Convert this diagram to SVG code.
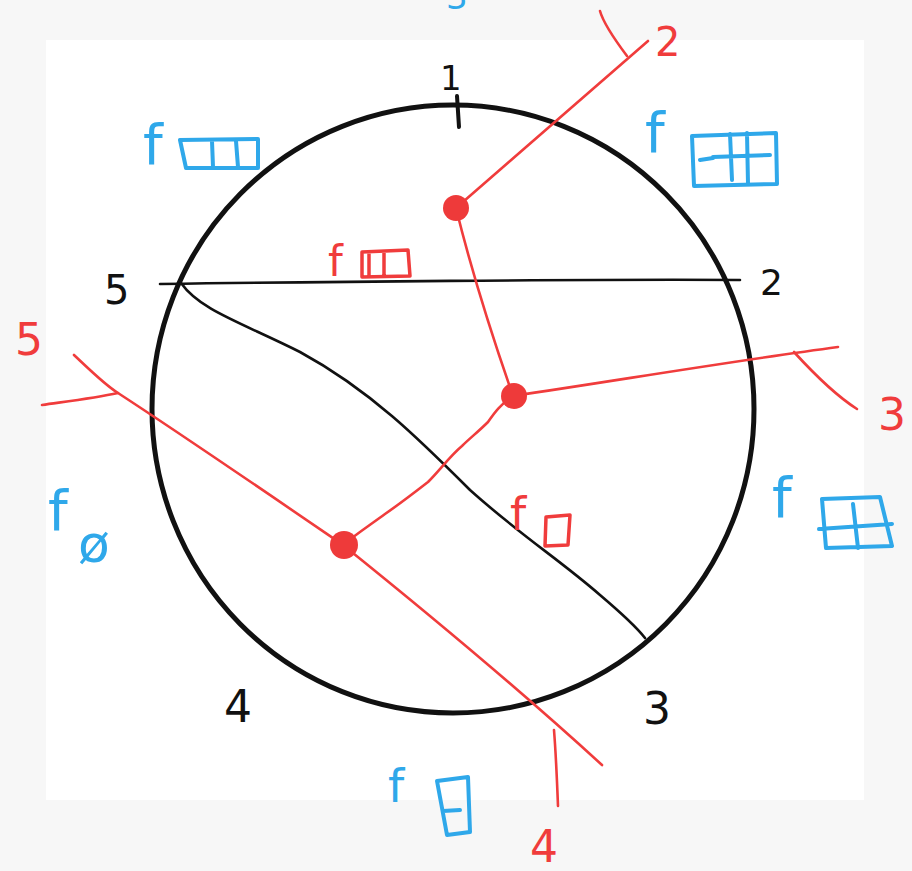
<svg xmlns="http://www.w3.org/2000/svg" width="912" height="871" viewBox="0 0 912 871">
<style>
.k{fill:none;stroke:#111;stroke-linecap:round;stroke-linejoin:round}
.r{fill:none;stroke:#f03c3c;stroke-width:2.6;stroke-linecap:round;stroke-linejoin:round}
.b{fill:none;stroke:#2fa8ea;stroke-width:4;stroke-linecap:round;stroke-linejoin:round}
.rb{fill:none;stroke:#f03c3c;stroke-width:3.5;stroke-linecap:round;stroke-linejoin:round}
.tk{font-family:"DejaVu Sans",sans-serif;fill:#111}
.tr{font-family:"DejaVu Sans",sans-serif;fill:#f03c3c}
.tb{font-family:"DejaVu Sans",sans-serif;fill:#2fa8ea}
.nd{fill:#ee3a3a}
</style>
<rect width="912" height="871" fill="#f7f7f7"/>
<rect x="46" y="40" width="818" height="760" fill="#ffffff"/>
<text class="tb" x="446" y="9" font-size="34">3</text>

<g id="circle">
<ellipse class="k" cx="453" cy="409" rx="301" ry="304" stroke-width="5"/>
<path class="k" d="M457 96 L459 127" stroke-width="4"/>
</g>
<g id="connectors">
<path class="k" stroke-width="2.6" d="M160 284 C 300 282 600 279 740 280"/>
<path class="k" stroke-width="2.6" d="M181 283 C 200 310 240 322 300 352 C 370 390 420 440 470 490 C 520 535 560 560 600 595 C 620 612 635 625 645 638"/>
<path class="r" d="M456 208 L 648 41"/>
<path class="r" d="M600 11 C 603 22 615 40 627 56"/>
<path class="r" d="M456 208 C 470 265 490 330 513 396"/>
<path class="r" d="M513 396 C 620 380 740 360 838 347"/>
<path class="r" d="M794 352 C 815 375 835 395 857 409"/>
<path class="r" d="M513 396 C 500 405 495 412 488 422 C 478 432 470 438 462 446 C 450 456 440 470 428 482 C 410 496 398 505 385 514 C 370 525 355 535 343 545"/>
<path class="r" d="M42 405 C 70 401 95 398 118 393"/>
<path class="r" d="M74 355 C 90 370 105 385 118 393 C 190 440 270 495 343 545 C 430 615 520 690 602 765"/>
<path class="r" d="M554 730 C 556 755 557 780 558 806"/>
</g>
<g id="nodeA"><circle class="nd" cx="456" cy="208" r="13"/></g>
<g id="nodeB"><circle class="nd" cx="514" cy="396" r="13"/></g>
<g id="nodeC"><circle class="nd" cx="344" cy="545" r="14"/></g>

<g id="labels-black">
<text class="tk" x="440" y="90" font-size="34">1</text>
<text class="tk" x="104" y="304" font-size="40">5</text>
<text class="tk" x="760" y="295" font-size="36">2</text>
<text class="tk" x="224" y="722" font-size="44">4</text>
<text class="tk" x="643" y="724" font-size="44">3</text>
</g>
<g id="labels-red">
<text class="tr" x="655" y="56" font-size="40">2</text>
<text class="tr" x="878" y="430" font-size="44">3</text>
<text class="tr" x="15" y="355" font-size="44">5</text>
<text class="tr" x="530" y="862" font-size="44">4</text>
</g>
<g id="label-f-chord">
<text class="tr" x="328" y="276" font-size="42">f</text>
<path class="rb" d="M362 252 L408 250 L410 276 L362 277 Z M369 253 L369 276 M384 252 L384 276"/>
</g>
<g id="label-f-lower">
<text class="tr" x="510" y="530" font-size="46">f</text>
<path class="rb" d="M546 517 L570 515 L568 545 L545 546 Z"/>
</g>
<g id="label-top-left">
<text class="tb" x="143" y="164" font-size="56">f</text>
<path class="b" d="M180 140 L258 139 L258 168 L186 168 Z M212 141 L213 167 M236 141 L238 167"/>
</g>
<g id="label-top-right">
<text class="tb" x="645" y="152" font-size="56">f</text>
<path class="b" d="M692 136 L776 133 L777 184 L694 186 Z M700 160 L713 158 M713 157 L770 155 M730 134 L732 180 M747 133 L748 184"/>
</g>
<g id="label-right">
<text class="tb" x="772" y="517" font-size="56">f</text>
<path class="b" d="M822 499 L880 497 L892 546 L826 548 Z M819 529 L892 524 M853 504 L858 548"/>
</g>
<g id="label-left">
<text class="tb" x="48" y="530" font-size="56">f</text>
<text class="tb" x="78" y="562" font-size="52">ø</text>
</g>
<g id="label-bottom">
<text class="tb" x="388" y="802" font-size="46">f</text>
<path class="b" d="M437 781 L468 777 L470 832 L447 835 Z M443 811 L460 810"/>
</g>
</svg>
